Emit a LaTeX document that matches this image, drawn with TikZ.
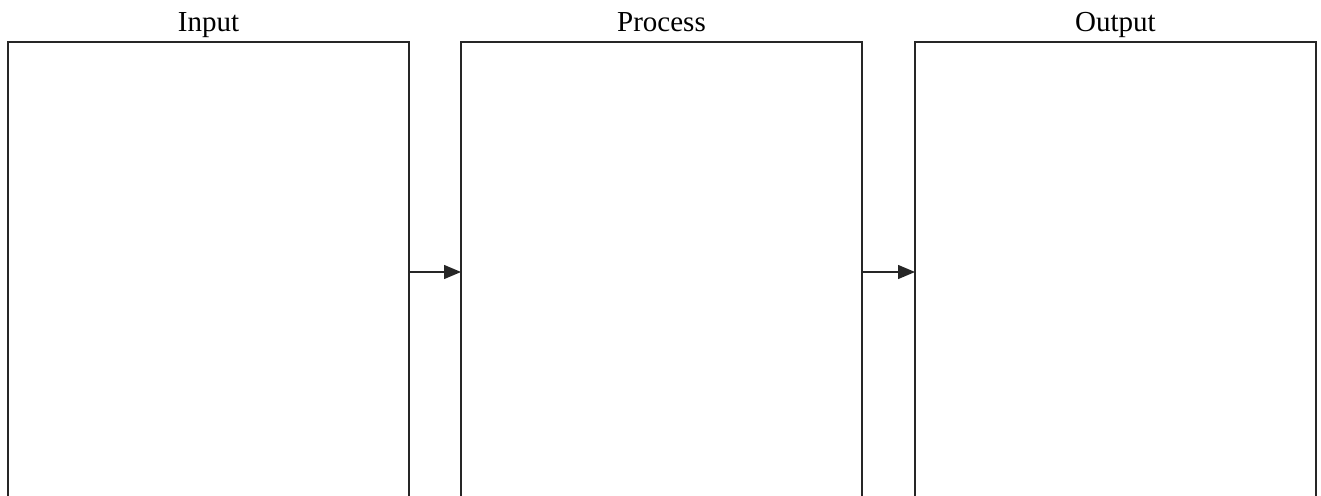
\documentclass[tikz,border=0pt]{standalone}
\usepackage{fontspec}
\setmainfont{Liberation Serif}
\usetikzlibrary{arrows.meta}
\begin{document}
\begin{tikzpicture}[x=1pt,y=-1pt,
  stage/.style={draw=black!85,line width=1.3pt,minimum width=401pt,minimum height=460pt,inner sep=0pt,outer sep=0pt},
  lbl/.style={font=\fontsize{29}{34}\selectfont,anchor=base,inner sep=0pt},
  conn/.style={draw=black!85,line width=1.3pt,-{Triangle[length=17pt,width=14pt]}}]
\useasboundingbox (0,0) rectangle (1321,495);
\clip (0,0) rectangle (1321,495);
\node[stage] (in) at (208.5,272) {};
\node[stage] (pr) at (661.5,272) {};
\node[stage] (out) at (1115.5,272) {};
\node[lbl] (lin) at (208.5,31.7) {Input};
\node[lbl] (lpr) at (661.5,31.7) {Process};
\node[lbl] (lout) at (1115.5,31.7) {Output};
\draw[conn] (in.east) -- (pr.west);
\draw[conn] (pr.east) -- (out.west);
\end{tikzpicture}
\end{document}
